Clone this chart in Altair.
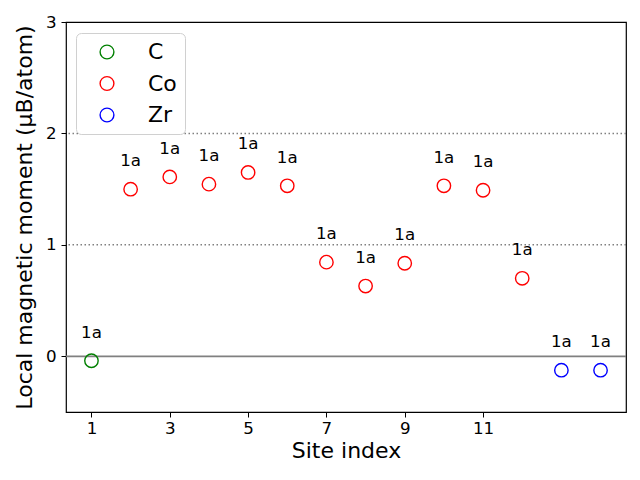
import altair as alt
import pandas as pd

site = list(range(1, 15))
moment = [-0.04, 1.50, 1.61, 1.545, 1.65, 1.53, 0.845, 0.63, 0.835, 1.53, 1.49, 0.70, -0.125, -0.125]
element = ["C"] + ["Co"] * 11 + ["Zr"] * 2
wyckoff = ["1a"] * 14
xticks = [1, 3, 5, 7, 9, 11]
yticks = [0, 1, 2, 3]
hlines_dotted = [1, 2]

df = pd.DataFrame({"site": site, "moment": moment, "element": element, "label": wyckoff})

FONT = "DejaVu Sans"
xs = alt.Scale(domain=[0.35, 14.65], nice=False, zero=False)
ys = alt.Scale(domain=[-0.5, 3], nice=False, zero=False)

xaxis = alt.Axis(values=xticks, grid=False, title="Site index", titleFontSize=22,
                 titleFontWeight="normal", labelFontSize=16.7, tickSize=5, tickColor="black",
                 domain=False, labelColor="black", titleColor="black", labelPadding=3, titlePadding=4,
                 labelFont=FONT, titleFont=FONT, format="d")
yaxis = alt.Axis(values=yticks, grid=False, title="Local magnetic moment (μB/atom)", titleFontSize=22,
                 titleFontWeight="normal", labelFontSize=16.7, tickSize=5, tickColor="black",
                 domain=False, labelColor="black", titleColor="black", labelPadding=5, titlePadding=9,
                 labelFont=FONT, titleFont=FONT, format="d")

base = alt.Chart(df)

zero_line = alt.Chart(pd.DataFrame({"y": [0]})).mark_rule(color="gray", strokeWidth=1.8).encode(
    y=alt.Y("y:Q", scale=ys, axis=yaxis))
dotted = alt.Chart(pd.DataFrame({"y": hlines_dotted})).mark_rule(
    color="gray", strokeWidth=1.5, strokeDash=[1.5, 2.5]).encode(y=alt.Y("y:Q", scale=ys))

points = base.mark_point(shape="circle", filled=False, size=180, strokeWidth=1.4, opacity=1).encode(
    x=alt.X("site:Q", scale=xs, axis=xaxis),
    y=alt.Y("moment:Q", scale=ys),
    color=alt.Color("element:N",
                    scale=alt.Scale(domain=["C", "Co", "Zr"], range=["green", "red", "blue"]),
                    legend=alt.Legend(title=None, orient="none", legendX=10, legendY=11,
                                      labelFontSize=22, labelFont=FONT, labelColor="black",
                                      symbolSize=190, symbolStrokeWidth=1.4, symbolType="circle",
                                      symbolFillColor="transparent", symbolOpacity=1, symbolOffset=12,
                                      rowPadding=9.5, padding=8, labelOffset=30,
                                      strokeColor="#d0d0d0", cornerRadius=5, fillColor="white",
                                      offset=0)),
)

labels = base.mark_text(fontSize=16.7, font=FONT, color="black", dy=-28, baseline="middle").encode(
    x=alt.X("site:Q", scale=xs),
    y=alt.Y("moment:Q", scale=ys),
    text="label:N",
)

chart = alt.layer(zero_line, dotted, points, labels).properties(
    width=560, height=390,
    autosize=alt.AutoSizeParams(type="none"),
    padding={"left": 58, "top": 14, "right": 6, "bottom": 60},
    background="white",
).configure_view(stroke="black", strokeWidth=1.2)

chart.save("out.html", embed_options={"renderer": "svg", "actions": False})
